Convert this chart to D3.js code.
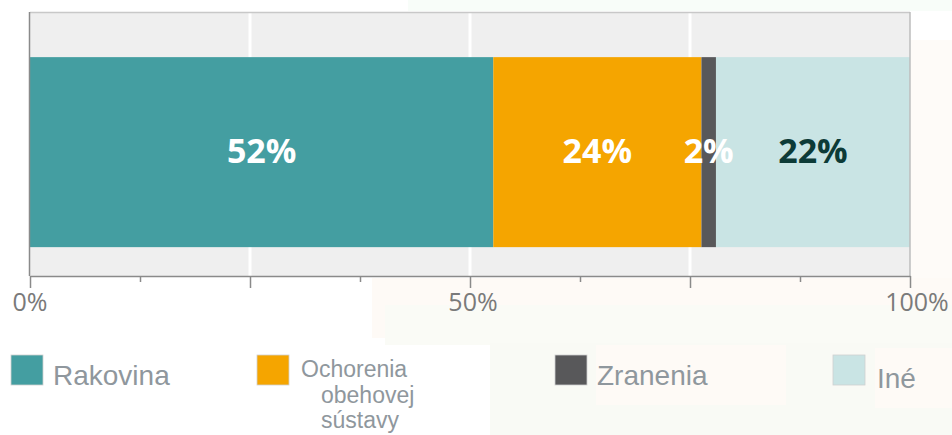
<!DOCTYPE html>
<html>
<head>
<meta charset="utf-8">
<script src="https://cdn.jsdelivr.net/npm/d3@7"></script>
<style>
  html, body { margin: 0; padding: 0; background: #ffffff; }
  svg { display: block; }
</style>
</head>
<body>
<svg id="chart" width="952" height="435"></svg>
<script>
// ---- data ----
const categories = ["Rakovina", "Ochorenia obehovej sústavy", "Zranenia", "Iné"];
const legendLines = [["Rakovina"], ["Ochorenia", "obehovej", "sústavy"], ["Zranenia"], ["Iné"]];
const values = [52.65, 23.65, 1.65, 22.05];
const valueLabels = ["52%", "24%", "2%", "22%"];
const colors = ["#449ea1", "#f5a500", "#58585a", "#c9e4e4"];
const labelColors = ["#ffffff", "#ffffff", "#ffffff", "#0d3b37"];
const tickValues = [0, 50, 100];
const tickLabels = ["0%", "50%", "100%"];

(function () {
const svg = d3.select("#chart");

// faint page-background tints
const tints = [
  {x: 408, y: 0, w: 544, h: 11, c: "#f8fdf9"},
  {x: 911, y: 40, w: 41, h: 240, c: "#fefbf8"},
  {x: 372, y: 278, w: 580, h: 60, c: "#fefaf6"},
  {x: 385, y: 305, w: 567, h: 40, c: "#fafbf6"},
  {x: 490, y: 343, w: 462, h: 92, c: "#f9faf5"},
  {x: 596, y: 345, w: 190, h: 60, c: "#fefaf6"},
  {x: 875, y: 348, w: 77, h: 60, c: "#fefaf6"}
];
svg.selectAll("rect.tint").data(tints).join("rect")
  .attr("class", "tint")
  .attr("x", d => d.x).attr("y", d => d.y)
  .attr("width", d => d.w).attr("height", d => d.h)
  .attr("fill", d => d.c);

const pl = 30, pr = 910, pt = 12, pb = 276;
const x = d3.scaleLinear().domain([0, 100]).range([pl, pr]);
const y = d3.scaleBand().domain(["all"]).range([pt, pb]).padding(0.163).align(0.61);

// plot background
svg.append("rect")
  .attr("x", pl).attr("y", pt)
  .attr("width", pr - pl).attr("height", pb - pt)
  .attr("fill", "#efefef");

// gridlines
svg.append("g").selectAll("line").data([25, 50, 75]).join("line")
  .attr("x1", d => x(d)).attr("x2", d => x(d))
  .attr("y1", pt).attr("y2", pb)
  .attr("stroke", "#ffffff").attr("stroke-width", 3);

// stacked bar
let cum = 0;
const segs = values.map((v, i) => { const s = {i, x0: cum, x1: cum + v}; cum += v; return s; });

svg.append("g").selectAll("rect").data(segs).join("rect")
  .attr("x", d => x(d.x0))
  .attr("y", y("all"))
  .attr("width", d => x(d.x1) - x(d.x0))
  .attr("height", y.bandwidth())
  .attr("fill", d => colors[d.i]);

svg.append("g").selectAll("text").data(segs).join("text")
  .attr("x", d => x((d.x0 + d.x1) / 2))
  .attr("y", y("all") + y.bandwidth() / 2 + 11)
  .attr("text-anchor", "middle")
  .attr("font-family", "'Open Sans', sans-serif")
  .attr("font-weight", 700)
  .attr("font-size", 34)
  .attr("fill", d => labelColors[d.i])
  .text(d => valueLabels[d.i]);

// borders
svg.append("line").attr("x1", pl).attr("x2", pr).attr("y1", pt + 0.5).attr("y2", pt + 0.5)
  .attr("stroke", "#c8c8c8").attr("stroke-width", 1.5);
svg.append("line").attr("x1", pr).attr("x2", pr).attr("y1", pt).attr("y2", pb)
  .attr("stroke", "#bdbdbd").attr("stroke-width", 1.5);
svg.append("line").attr("x1", pl - 0.5).attr("x2", pl - 0.5).attr("y1", pt).attr("y2", pb)
  .attr("stroke", "#8a8a8a").attr("stroke-width", 1.5);

// axis
const axis = d3.axisBottom(x)
  .tickValues(d3.range(0, 101, 12.5))
  .tickSize(0)
  .tickFormat("");
const gAxis = svg.append("g").attr("transform", `translate(0,${pb})`).call(axis);
gAxis.select(".domain").attr("stroke", "#8a8a8a").attr("stroke-width", 1.5);
gAxis.selectAll(".tick line")
  .attr("y2", d => (d % 25 === 0 ? 12 : 6))
  .attr("stroke", "#8a8a8a").attr("stroke-width", 1.5);

svg.append("g").selectAll("text").data(tickValues).join("text")
  .attr("x", (d, i) => x(d) + (i === 2 ? 7 : (i === 1 ? 3 : 0)))
  .attr("y", 311)
  .attr("text-anchor", "middle")
  .attr("font-family", "'Open Sans', sans-serif")
  .attr("font-size", 25)
  .attr("fill", "#7a7a7a")
  .text((d, i) => tickLabels[i]);

// legend
const legendX = [11, 257, 555, 833];
const lg = svg.append("g").selectAll("g").data(categories).join("g")
  .attr("transform", (d, i) => `translate(${legendX[i]},355)`);
lg.append("rect")
  .attr("width", 32).attr("height", 30)
  .attr("fill", (d, i) => colors[i])
  .attr("stroke", "#d0d0d0").attr("stroke-width", 0.8);
lg.each(function(d, i) {
  const g = d3.select(this);
  const small = legendLines[i].length > 1;
  legendLines[i].forEach((line, j) => {
    g.append("text")
      .attr("x", small ? (j === 0 ? 44 : 64) : (i === 3 ? 44 : 42))
      .attr("y", small ? 22 + j * 25.5 : (i === 3 ? 33 : 30))
      .attr("font-family", "'Liberation Sans', Arial, sans-serif")
      .attr("font-size", small ? 23 : 28)
      .attr("fill", "#8f979d")
      .text(line);
  });
});
})();
</script>
</body>
</html>
